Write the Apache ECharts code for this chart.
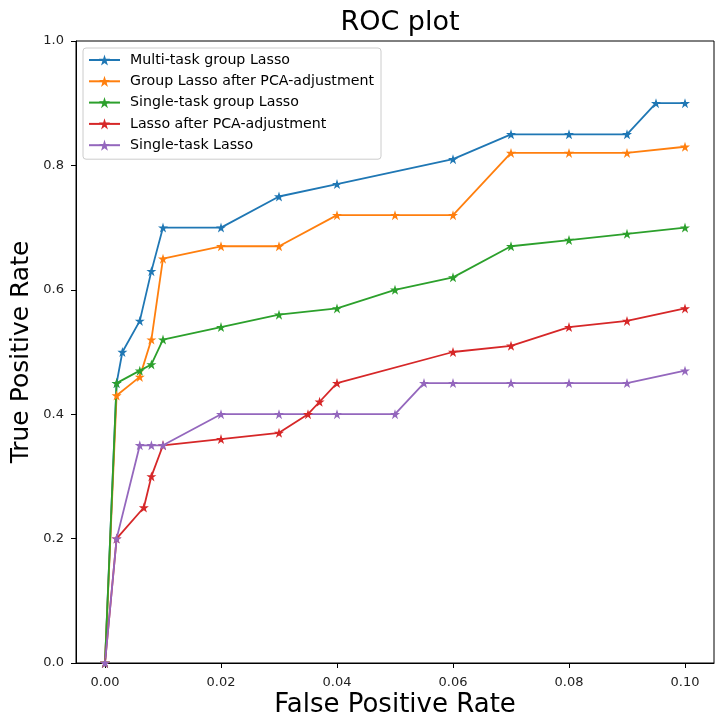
<!DOCTYPE html>
<html>
<head>
<meta charset="utf-8">
<script src="https://cdn.jsdelivr.net/npm/echarts@6/dist/echarts.min.js"></script>
<style>
  html, body { margin: 0; padding: 0; background: #fff; }
  #chart { width: 716px; height: 716px; }
</style>
</head>
<body>
<div id="chart"></div>
<script>
const seriesNames = [
  'Multi-task group Lasso',
  'Group Lasso after PCA-adjustment',
  'Single-task group Lasso',
  'Lasso after PCA-adjustment',
  'Single-task Lasso'
]
const colors = ['#1f77b4', '#ff7f0e', '#2ca02c', '#d62728', '#9467bd']

const fprMulti = [0, 0.002, 0.003, 0.006, 0.008, 0.01, 0.02, 0.03, 0.04, 0.06, 0.07, 0.08, 0.09, 0.095, 0.10]
const tprMulti = [0, 0.45, 0.50, 0.55, 0.63, 0.70, 0.70, 0.75, 0.77, 0.81, 0.85, 0.85, 0.85, 0.90, 0.90]

const fprGroupPca = [0, 0.002, 0.006, 0.008, 0.01, 0.02, 0.03, 0.04, 0.05, 0.06, 0.07, 0.08, 0.09, 0.10]
const tprGroupPca = [0, 0.43, 0.46, 0.52, 0.65, 0.67, 0.67, 0.72, 0.72, 0.72, 0.82, 0.82, 0.82, 0.83]

const fprSingleGroup = [0, 0.002, 0.006, 0.008, 0.01, 0.02, 0.03, 0.04, 0.05, 0.06, 0.07, 0.08, 0.09, 0.10]
const tprSingleGroup = [0, 0.45, 0.47, 0.48, 0.52, 0.54, 0.56, 0.57, 0.60, 0.62, 0.67, 0.68, 0.69, 0.70]

const fprLassoPca = [0, 0.002, 0.0067, 0.008, 0.01, 0.02, 0.03, 0.035, 0.037, 0.04, 0.06, 0.07, 0.08, 0.09, 0.10]
const tprLassoPca = [0, 0.20, 0.25, 0.30, 0.35, 0.36, 0.37, 0.40, 0.42, 0.45, 0.50, 0.51, 0.54, 0.55, 0.57]

const fprSingle = [0, 0.002, 0.006, 0.008, 0.01, 0.02, 0.03, 0.04, 0.05, 0.055, 0.06, 0.07, 0.08, 0.09, 0.10]
const tprSingle = [0, 0.20, 0.35, 0.35, 0.35, 0.40, 0.40, 0.40, 0.40, 0.45, 0.45, 0.45, 0.45, 0.45, 0.47]

const xTicks = [0, 0.02, 0.04, 0.06, 0.08, 0.10]
const yTicks = [0, 0.2, 0.4, 0.6, 0.8, 1.0]

const fprs = [fprMulti, fprGroupPca, fprSingleGroup, fprLassoPca, fprSingle]
const tprs = [tprMulti, tprGroupPca, tprSingleGroup, tprLassoPca, tprSingle]

// matplotlib-like '*' marker
const star = 'path://M100,0 L122.45,69.1 L195.1,69.1 L136.3,111.8 L158.8,180.9 L100,138.2 L41.2,180.9 L63.7,111.8 L4.9,69.1 L77.55,69.1 Z'
const font = 'DejaVu Sans'

const chart = echarts.init(document.getElementById('chart'))
chart.setOption({
  animation: false,
  backgroundColor: '#fff',
  textStyle: { fontFamily: font },
  title: {
    text: 'ROC plot',
    left: 395,
    top: 4,
    textAlign: 'center',
    textStyle: { fontFamily: font, fontSize: 27, fontWeight: 'normal', color: '#000' }
  },
  legend: {
    orient: 'vertical',
    left: 83,
    top: 48,
    padding: [5, 7, 7, 5],
    itemWidth: 31,
    itemHeight: 14,
    itemGap: 7.3,
    borderColor: '#cccccc',
    borderWidth: 1,
    borderRadius: 3,
    backgroundColor: '#fff',
    data: seriesNames,
    textStyle: { fontFamily: font, fontSize: 14.2, color: '#000', padding: [0, 0, 0, 5] }
  },
  grid: {
    left: 76,
    right: 2,
    top: 41,
    bottom: 53,
    outerBoundsMode: 'none',
    show: true,
    borderColor: '#000',
    borderWidth: 1,
    backgroundColor: 'transparent'
  },
  xAxis: {
    type: 'value',
    min: -0.005,
    max: 0.105,
    name: 'False Positive Rate',
    nameLocation: 'middle',
    nameGap: 29,
    nameMoveOverlap: false,
    nameTextStyle: { fontFamily: font, fontSize: 26, color: '#000' },
    axisLine: { show: true, onZero: false, lineStyle: { color: '#000', width: 1 } },
    axisTick: { show: true, customValues: xTicks, length: 5, lineStyle: { color: '#000' } },
    axisLabel: {
      customValues: xTicks,
      formatter: v => v.toFixed(2),
      margin: 13,
      fontFamily: font,
      fontSize: 13,
      color: '#222'
    },
    splitLine: { show: false }
  },
  yAxis: {
    type: 'value',
    min: 0,
    max: 1,
    interval: 0.2,
    name: 'True Positive Rate',
    nameLocation: 'middle',
    nameGap: 42,
    nameMoveOverlap: false,
    nameTextStyle: { fontFamily: font, fontSize: 25, color: '#000' },
    axisLine: { show: true, onZero: false, lineStyle: { color: '#000', width: 1 } },
    axisTick: { show: true, customValues: yTicks, length: 5, lineStyle: { color: '#000' } },
    axisLabel: {
      customValues: yTicks,
      formatter: v => v.toFixed(1),
      margin: 12,
      fontFamily: font,
      fontSize: 13,
      color: '#222'
    },
    splitLine: { show: false }
  },
  series: seriesNames.map((name, i) => ({
    name: name,
    type: 'line',
    data: fprs[i].map((x, j) => [x, tprs[i][j]]),
    color: colors[i],
    symbol: star,
    symbolSize: 10,
    showAllSymbol: true,
    silent: true,
    lineStyle: { width: 1.8, color: colors[i] },
    itemStyle: { color: colors[i] }
  }))
})
</script>
</body>
</html>
